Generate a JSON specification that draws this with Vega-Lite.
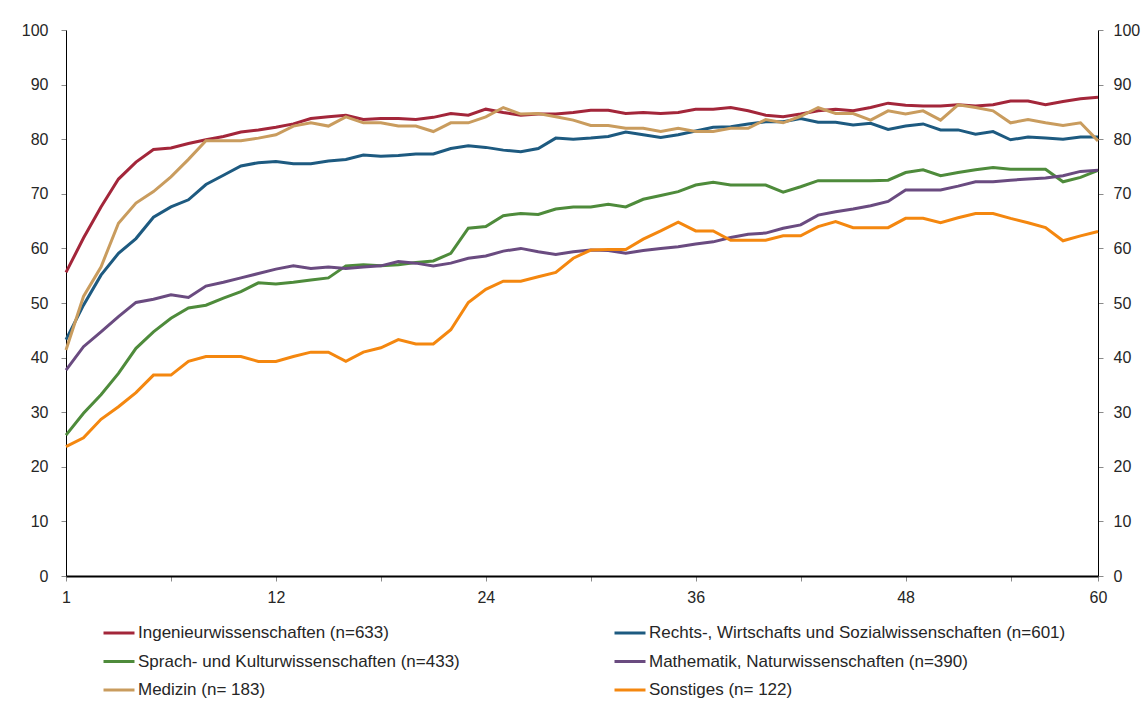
{
  "$schema": "https://vega.github.io/schema/vega-lite/v6.json",
  "width": 1032,
  "height": 546,
  "autosize": {"type": "none"},
  "padding": {"left": 66, "top": 30, "right": 50, "bottom": 132},
  "background": "white",
  "config": {
    "view": {"stroke": null},
    "font": "Liberation Sans",
    "axis": {
      "grid": false,
      "domainColor": "#000000",
      "domainWidth": 1,
      "tickColor": "#8a8a8a",
      "tickSize": 5,
      "labelColor": "#262626",
      "labelFont": "Liberation Sans",
      "labelFontSize": 16,
      "title": null
    },
    "legend": {
      "labelFont": "Liberation Sans",
      "labelFontSize": 17,
      "labelColor": "#262626",
      "labelLimit": 600
    }
  },
  "datasets": {
    "names": [
      {"key": "ing", "name": "Ingenieurwissenschaften (n=633)"},
      {"key": "rws", "name": "Rechts-, Wirtschafts und Sozialwissenschaften (n=601)"},
      {"key": "spk", "name": "Sprach- und Kulturwissenschaften (n=433)"},
      {"key": "mat", "name": "Mathematik, Naturwissenschaften (n=390)"},
      {"key": "med", "name": "Medizin (n= 183)"},
      {"key": "son", "name": "Sonstiges (n= 122)"}
    ]
  },
  "data": {"values": [
    {"m":1,"ing":55.6,"rws":43.3,"spk":25.8,"mat":37.7,"med":41.4,"son":23.7},
    {"m":2,"ing":61.9,"rws":49.6,"spk":29.8,"mat":42.0,"med":51.2,"son":25.3},
    {"m":3,"ing":67.6,"rws":55.1,"spk":33.2,"mat":44.7,"med":56.6,"son":28.7},
    {"m":4,"ing":72.7,"rws":59.1,"spk":37.1,"mat":47.5,"med":64.6,"son":31.0},
    {"m":5,"ing":75.8,"rws":61.8,"spk":41.7,"mat":50.1,"med":68.3,"son":33.6},
    {"m":6,"ing":78.1,"rws":65.7,"spk":44.7,"mat":50.7,"med":70.4,"son":36.8},
    {"m":7,"ing":78.4,"rws":67.6,"spk":47.2,"mat":51.5,"med":73.1,"son":36.8},
    {"m":8,"ing":79.2,"rws":68.9,"spk":49.1,"mat":51.0,"med":76.3,"son":39.3},
    {"m":9,"ing":79.9,"rws":71.7,"spk":49.6,"mat":53.1,"med":79.7,"son":40.2},
    {"m":10,"ing":80.5,"rws":73.4,"spk":50.9,"mat":53.8,"med":79.7,"son":40.2},
    {"m":11,"ing":81.3,"rws":75.1,"spk":52.1,"mat":54.6,"med":79.7,"son":40.2},
    {"m":12,"ing":81.7,"rws":75.7,"spk":53.7,"mat":55.4,"med":80.2,"son":39.3},
    {"m":13,"ing":82.2,"rws":75.9,"spk":53.5,"mat":56.2,"med":80.8,"son":39.3},
    {"m":14,"ing":82.8,"rws":75.5,"spk":53.8,"mat":56.8,"med":82.4,"son":40.2},
    {"m":15,"ing":83.8,"rws":75.5,"spk":54.2,"mat":56.3,"med":83.0,"son":41.0},
    {"m":16,"ing":84.1,"rws":76.0,"spk":54.6,"mat":56.6,"med":82.4,"son":41.0},
    {"m":17,"ing":84.4,"rws":76.3,"spk":56.8,"mat":56.3,"med":84.1,"son":39.3},
    {"m":18,"ing":83.6,"rws":77.1,"spk":57.0,"mat":56.6,"med":83.0,"son":41.0},
    {"m":19,"ing":83.8,"rws":76.9,"spk":56.8,"mat":56.8,"med":83.0,"son":41.8},
    {"m":20,"ing":83.8,"rws":77.0,"spk":57.0,"mat":57.6,"med":82.4,"son":43.3},
    {"m":21,"ing":83.6,"rws":77.3,"spk":57.4,"mat":57.3,"med":82.4,"son":42.5},
    {"m":22,"ing":84.0,"rws":77.3,"spk":57.7,"mat":56.8,"med":81.4,"son":42.5},
    {"m":23,"ing":84.7,"rws":78.3,"spk":59.1,"mat":57.3,"med":83.0,"son":45.1},
    {"m":24,"ing":84.4,"rws":78.8,"spk":63.7,"mat":58.2,"med":83.0,"son":50.1},
    {"m":25,"ing":85.5,"rws":78.5,"spk":64.0,"mat":58.6,"med":84.1,"son":52.5},
    {"m":26,"ing":84.9,"rws":78.0,"spk":66.0,"mat":59.5,"med":85.8,"son":54.0},
    {"m":27,"ing":84.4,"rws":77.7,"spk":66.4,"mat":60.0,"med":84.6,"son":54.0},
    {"m":28,"ing":84.6,"rws":78.3,"spk":66.2,"mat":59.4,"med":84.7,"son":54.8},
    {"m":29,"ing":84.6,"rws":80.2,"spk":67.2,"mat":58.9,"med":84.1,"son":55.6},
    {"m":30,"ing":84.9,"rws":80.0,"spk":67.6,"mat":59.4,"med":83.5,"son":58.2},
    {"m":31,"ing":85.3,"rws":80.2,"spk":67.6,"mat":59.7,"med":82.5,"son":59.7},
    {"m":32,"ing":85.3,"rws":80.5,"spk":68.1,"mat":59.6,"med":82.5,"son":59.8},
    {"m":33,"ing":84.7,"rws":81.3,"spk":67.6,"mat":59.1,"med":82.0,"son":59.8},
    {"m":34,"ing":84.9,"rws":80.8,"spk":69.0,"mat":59.6,"med":82.0,"son":61.7},
    {"m":35,"ing":84.7,"rws":80.3,"spk":69.7,"mat":60.0,"med":81.4,"son":63.2},
    {"m":36,"ing":84.9,"rws":80.8,"spk":70.4,"mat":60.3,"med":82.0,"son":64.8},
    {"m":37,"ing":85.5,"rws":81.5,"spk":71.6,"mat":60.8,"med":81.4,"son":63.2},
    {"m":38,"ing":85.5,"rws":82.2,"spk":72.1,"mat":61.2,"med":81.4,"son":63.2},
    {"m":39,"ing":85.8,"rws":82.3,"spk":71.6,"mat":62.0,"med":82.0,"son":61.5},
    {"m":40,"ing":85.2,"rws":82.8,"spk":71.6,"mat":62.6,"med":82.0,"son":61.5},
    {"m":41,"ing":84.4,"rws":83.2,"spk":71.6,"mat":62.8,"med":83.6,"son":61.5},
    {"m":42,"ing":84.1,"rws":83.2,"spk":70.3,"mat":63.7,"med":83.0,"son":62.3},
    {"m":43,"ing":84.6,"rws":83.8,"spk":71.3,"mat":64.3,"med":84.2,"son":62.3},
    {"m":44,"ing":85.2,"rws":83.1,"spk":72.4,"mat":66.1,"med":85.8,"son":64.0},
    {"m":45,"ing":85.5,"rws":83.1,"spk":72.4,"mat":66.7,"med":84.7,"son":64.9},
    {"m":46,"ing":85.2,"rws":82.6,"spk":72.4,"mat":67.2,"med":84.7,"son":63.8},
    {"m":47,"ing":85.8,"rws":82.9,"spk":72.4,"mat":67.8,"med":83.5,"son":63.8},
    {"m":48,"ing":86.6,"rws":81.8,"spk":72.5,"mat":68.6,"med":85.2,"son":63.8},
    {"m":49,"ing":86.2,"rws":82.4,"spk":73.9,"mat":70.7,"med":84.6,"son":65.5},
    {"m":50,"ing":86.1,"rws":82.8,"spk":74.4,"mat":70.7,"med":85.2,"son":65.5},
    {"m":51,"ing":86.1,"rws":81.7,"spk":73.3,"mat":70.7,"med":83.5,"son":64.7},
    {"m":52,"ing":86.3,"rws":81.7,"spk":73.9,"mat":71.4,"med":86.3,"son":65.6},
    {"m":53,"ing":86.1,"rws":80.9,"spk":74.4,"mat":72.2,"med":85.8,"son":66.4},
    {"m":54,"ing":86.3,"rws":81.4,"spk":74.8,"mat":72.2,"med":85.2,"son":66.4},
    {"m":55,"ing":87.0,"rws":79.9,"spk":74.5,"mat":72.5,"med":83.0,"son":65.5},
    {"m":56,"ing":87.0,"rws":80.4,"spk":74.5,"mat":72.7,"med":83.6,"son":64.7},
    {"m":57,"ing":86.3,"rws":80.2,"spk":74.5,"mat":72.9,"med":83.0,"son":63.8},
    {"m":58,"ing":86.9,"rws":80.0,"spk":72.2,"mat":73.3,"med":82.5,"son":61.4},
    {"m":59,"ing":87.4,"rws":80.4,"spk":73.0,"mat":74.1,"med":83.0,"son":62.3},
    {"m":60,"ing":87.7,"rws":80.4,"spk":74.3,"mat":74.3,"med":79.7,"son":63.1}
  ]},
  "transform": [
    {"fold": ["ing", "rws", "spk", "mat", "med", "son"], "as": ["key", "v"]},
    {"lookup": "key", "from": {"data": {"name": "names"}, "key": "key", "fields": ["name"]}}
  ],
  "layer": [
    {
      "mark": {"type": "line", "strokeWidth": 3, "interpolate": "linear"},
      "encoding": {
        "x": {
          "field": "m", "type": "quantitative",
          "scale": {"domain": [1, 60], "nice": false, "zero": false},
          "axis": {
            "values": [1, 7, 13, 19, 25, 31, 37, 43, 49, 55, 60],
            "labelExpr": "datum.value == 1 ? '1' : datum.value == 13 ? '12' : datum.value == 25 ? '24' : datum.value == 37 ? '36' : datum.value == 49 ? '48' : datum.value == 60 ? '60' : ''",
            "domainWidth": 2,
            "labelPadding": 8,
            "labelFlush": false,
            "labelOverlap": false
          }
        },
        "y": {
          "field": "v", "type": "quantitative",
          "scale": {"domain": [0, 100], "nice": false},
          "axis": {"orient": "left", "values": [0,10,20,30,40,50,60,70,80,90,100], "labelPadding": 13}
        },
        "color": {
          "field": "name", "type": "nominal",
          "scale": {
            "domain": [
              "Ingenieurwissenschaften (n=633)",
              "Rechts-, Wirtschafts und Sozialwissenschaften (n=601)",
              "Sprach- und Kulturwissenschaften (n=433)",
              "Mathematik, Naturwissenschaften (n=390)",
              "Medizin (n= 183)",
              "Sonstiges (n= 122)"
            ],
            "range": ["#A3263A", "#1D5A80", "#4E8B3B", "#6A4B80", "#C99C5E", "#F4870F"]
          },
          "legend": {
            "title": null,
            "orient": "none",
            "legendX": 36,
            "legendY": 586,
            "direction": "horizontal",
            "columns": 2,
            "columnPadding": 148,
            "rowPadding": 3.5,
            "symbolType": "stroke",
            "symbolSize": 961,
            "symbolStrokeWidth": 3,
            "labelOffset": 2,
            "padding": 0
          }
        }
      }
    },
    {
      "mark": {"type": "line", "strokeOpacity": 0},
      "encoding": {
        "x": {"field": "m", "type": "quantitative"},
        "y": {
          "field": "v", "type": "quantitative",
          "axis": {"orient": "right", "values": [0,10,20,30,40,50,60,70,80,90,100], "labelPadding": 10}
        },
        "detail": {"field": "key", "type": "nominal"}
      }
    }
  ],
  "resolve": {"axis": {"y": "independent"}}
}
